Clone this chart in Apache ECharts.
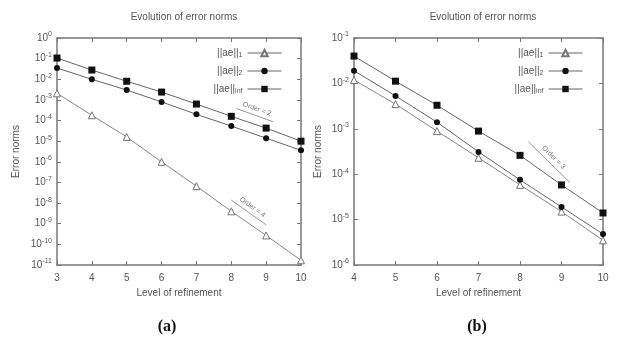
<!DOCTYPE html>
<html>
<head>
<meta charset="utf-8">
<script src="https://cdn.jsdelivr.net/npm/echarts@6/dist/echarts.min.js"></script>
<style>
  html, body { margin: 0; padding: 0; background: #fff; }
  #main { width: 620px; height: 343px; }
</style>
</head>
<body>
<div id="main"></div>
<script>
// panel (a)
let levelsA = [3, 4, 5, 6, 7, 8, 9, 10];
let aeL1A  = [2.1e-3, 1.8e-4, 1.6e-5, 1.0e-6, 6.6e-8, 4.0e-9, 2.7e-10, 1.7e-11];
let aeL2A  = [3.5e-2, 1.0e-2, 3.0e-3, 8.0e-4, 2.0e-4, 5.4e-5, 1.4e-5, 3.6e-6];
let aeInfA = [1.07e-1, 2.8e-2, 8.0e-3, 2.4e-3, 6.3e-4, 1.6e-4, 4.3e-5, 1.0e-5];
let orderLineA2 = [[8.15, 3.8e-4], [9.2, 8.8e-5]];
let orderLineA4 = [[8.0, 1.4e-8], [9.0, 8.8e-10]];

// panel (b)
let levelsB = [4, 5, 6, 7, 8, 9, 10];
let aeL1B  = [1.19e-2, 3.5e-3, 8.9e-4, 2.3e-4, 5.8e-5, 1.5e-5, 3.5e-6];
let aeL2B  = [1.9e-2, 5.3e-3, 1.4e-3, 3.1e-4, 7.5e-5, 1.9e-5, 4.8e-6];
let aeInfB = [4.0e-2, 1.12e-2, 3.3e-3, 8.9e-4, 2.6e-4, 5.8e-5, 1.4e-5];
let orderLineB3 = [[8.2, 5.2e-4], [9.2, 6.6e-5]];

let names = ['||ae||{sub|1}', '||ae||{sub|2}', '||ae||{sub|inf}'];
let seriesNames = ['L1', 'L2', 'Linf'];

let grey = '#666';
let textGrey = '#555';
let fontFam = 'Liberation Sans, Arial, sans-serif';

function pairs(xs, ys) {
    return xs.map((x, i) => [x, ys[i]]);
}

function supLabel(v) {
    let e = Math.round(Math.log10(v));
    return '10{sup|' + e + '}';
}

function orderMark(line, text) {
    return {
        silent: true,
        symbol: 'none',
        lineStyle: { color: '#999', width: 1, type: 'solid' },
        label: {
            show: true, position: 'middle', formatter: text,
            fontSize: 7, color: '#777', fontFamily: fontFam, distance: 3
        },
        data: [[{ coord: line[0] }, { coord: line[1] }]]
    };
}

let chart = echarts.init(document.getElementById('main'));

let grids = [
    { left: 57, right: 319, top: 38, bottom: 78 },
    { left: 354, right: 17, top: 38, bottom: 78 }
];

function xAxes(idx, min, max) {
    return [{
        gridIndex: idx, type: 'value', min: min, max: max, interval: 1,
        name: 'Level of refinement', nameLocation: 'middle', nameGap: 22,
        nameTextStyle: { fontSize: 10, color: textGrey, fontFamily: fontFam },
        axisLine: { lineStyle: { color: '#777', width: 1.5 } },
        axisTick: { inside: true, length: 4, lineStyle: { color: '#777' } },
        axisLabel: { fontSize: 10, color: textGrey, fontFamily: fontFam, margin: 8 },
        splitLine: { show: false }
    }, {
        gridIndex: idx, type: 'value', position: 'top', min: min, max: max, interval: 1,
        axisLine: { onZero: false, lineStyle: { color: '#777', width: 1.5 } },
        axisTick: { inside: true, length: 4, lineStyle: { color: '#777' } },
        axisLabel: { show: false },
        splitLine: { show: false }
    }];
}

function yAxes(idx, min, max, nameGap) {
    return [{
        gridIndex: idx, type: 'log', logBase: 10, min: min, max: max, interval: 1,
        name: 'Error norms', nameLocation: 'middle', nameGap: nameGap,
        nameTextStyle: { fontSize: 10, color: textGrey, fontFamily: fontFam },
        axisLine: { lineStyle: { color: '#777', width: 1.5 } },
        axisTick: { inside: true, length: 4, lineStyle: { color: '#777' } },
        axisLabel: {
            fontSize: 10, color: textGrey, fontFamily: fontFam, margin: 5,
            formatter: supLabel,
            rich: { sup: { fontSize: 7, color: textGrey, fontFamily: fontFam, padding: [0, 0, 7, 0] } }
        },
        splitLine: { show: false },
        minorTick: { show: false }
    }, {
        gridIndex: idx, type: 'log', logBase: 10, position: 'right', min: min, max: max, interval: 1,
        axisLine: { lineStyle: { color: '#777', width: 1.5 } },
        axisTick: { inside: true, length: 4, lineStyle: { color: '#777' } },
        axisLabel: { show: false },
        splitLine: { show: false }
    }];
}

function panelSeries(idx, levels, l1, l2, linf, marks) {
    let xi = idx * 2, yi = idx * 2;
    let list = [
        {
            name: seriesNames[0], type: 'line', xAxisIndex: xi, yAxisIndex: yi,
            data: pairs(levels, l1), symbol: 'triangle', symbolSize: 7,
            itemStyle: { color: '#fff', borderColor: '#777', borderWidth: 1 },
            lineStyle: { color: '#888', width: 1 }
        },
        {
            name: seriesNames[1], type: 'line', xAxisIndex: xi, yAxisIndex: yi,
            data: pairs(levels, l2), symbol: 'circle', symbolSize: 6,
            itemStyle: { color: '#111' },
            lineStyle: { color: grey, width: 1 }
        },
        {
            name: seriesNames[2], type: 'line', xAxisIndex: xi, yAxisIndex: yi,
            data: pairs(levels, linf), symbol: 'rect', symbolSize: 7,
            itemStyle: { color: '#111' },
            lineStyle: { color: grey, width: 1 }
        }
    ];
    marks.forEach(m => {
        list.push({
            type: 'line', xAxisIndex: xi, yAxisIndex: yi, data: [],
            markLine: orderMark(m[0], m[1])
        });
    });
    return list;
}

function legendFor(right) {
    return {
        orient: 'vertical', right: right, top: 43,
        align: 'right', itemWidth: 34, itemHeight: 8, itemGap: 7,
        data: seriesNames,
        formatter: n => names[seriesNames.indexOf(n)],
        lineStyle: { width: 1, color: grey },
        textStyle: {
            fontSize: 10, color: textGrey, fontFamily: fontFam, width: 44, align: 'right',
            rich: { sub: { fontSize: 7, color: textGrey, fontFamily: fontFam, padding: [5, 0, 0, 0] } }
        },
        inactiveColor: '#ccc'
    };
}

let option = {
    animation: false,
    backgroundColor: '#fff',
    title: [
        { text: 'Evolution of error norms', left: 179, top: 7, textAlign: 'center',
          textStyle: { fontSize: 10, fontWeight: 'normal', color: textGrey, fontFamily: fontFam } },
        { text: 'Evolution of error norms', left: 478, top: 7, textAlign: 'center',
          textStyle: { fontSize: 10, fontWeight: 'normal', color: textGrey, fontFamily: fontFam } },
        { text: '(a)', left: 162, top: 314, textAlign: 'center',
          textStyle: { fontSize: 16, fontWeight: 'bold', color: '#111', fontFamily: 'Liberation Serif, Times New Roman, serif' } },
        { text: '(b)', left: 472, top: 314, textAlign: 'center',
          textStyle: { fontSize: 16, fontWeight: 'bold', color: '#111', fontFamily: 'Liberation Serif, Times New Roman, serif' } }
    ],
    legend: [legendFor(333), legendFor(32)],
    grid: grids,
    xAxis: xAxes(0, 3, 10).concat(xAxes(1, 4, 10)),
    yAxis: yAxes(0, 1e-11, 1, 36).concat(yAxes(1, 1e-6, 1e-1, 31)),
    series: panelSeries(0, levelsA, aeL1A, aeL2A, aeInfA,
                [[orderLineA2, 'Order = 2'], [orderLineA4, 'Order = 4']])
        .concat(panelSeries(1, levelsB, aeL1B, aeL2B, aeInfB,
                [[orderLineB3, 'Order = 3']]))
};

chart.setOption(option);
</script>
</body>
</html>
